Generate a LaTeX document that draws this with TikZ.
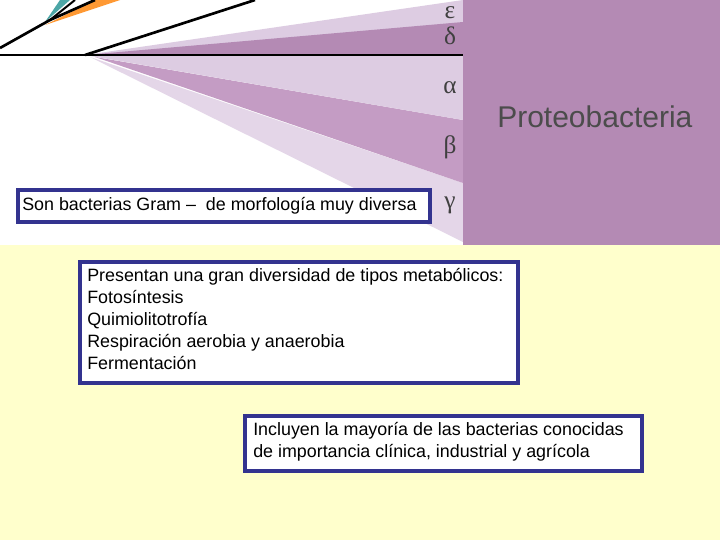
\documentclass[tikz,border=0pt]{standalone}
\usepackage{fontspec}
\setmainfont{Liberation Sans}
\newfontfamily\grk{Liberation Serif}
\begin{document}
\begin{tikzpicture}[x=0.75pt,y=-0.75pt,
 box/.style={draw=boxblue,line width=2.6pt,fill=white},
 txt/.style={font=\fontsize{13.4}{16.5}\selectfont,align=left,anchor=north west,inner sep=0pt},
 gl/.style={font=\grk\fontsize{19}{19}\selectfont,text=black!75}]
\definecolor{boxblue}{HTML}{33338F}
\definecolor{bgy}{HTML}{FFFFCC}
\definecolor{pdark}{HTML}{B48AB4}
\definecolor{pmid}{HTML}{C49CC4}
\definecolor{plight}{HTML}{DDCCE2}
\definecolor{plight2}{HTML}{E4D6E8}
\useasboundingbox (0,0) rectangle (720,540);
\fill[bgy] (0,245) rectangle (720,540);
\fill[white] (0,0) rectangle (463,245);
% wedges
\fill[plight] (85,55) -- (463,0) -- (463,55) -- cycle;
\fill[pdark] (85,55) -- (463,22) -- (463,55) -- cycle;
\fill[plight2] (90,57) -- (463,242) -- (463,183) -- cycle;
\fill[pmid] (95,57) -- (463,183) -- (463,120) -- cycle;
\fill[plight] (85,55) -- (463,120) -- (463,55) -- cycle;
\fill[pdark] (463,0) rectangle (720,245);
% tree lines
\fill[orange!80] (45,25) -- (120,0) -- (95,0) -- cycle;
\fill[teal!70] (45,22) -- (60,0) -- (70,0) -- cycle;
\draw[line width=2pt] (0,55) -- (463,55);
\draw[line width=2pt] (85,55) -- (255,0);
\draw[line width=2pt] (0,48) -- (50,20) -- (95,0);
\draw[line width=1.5pt] (50,20) -- (75,0);
\node[gl] (eps) at (450,13) {ε};
\node[gl] (del) at (450,36) {δ};
\node[gl] (alp) at (450,88) {α};
\node[gl] (bet) at (450,147) {β};
\node[gl] (gam) at (450,205) {γ};
\node[font=\fontsize{22.5}{24}\selectfont,text=black!70,anchor=west,inner sep=0pt] (prot) at (497,117) {Proteobacteria};
\draw[box] (18,190) rectangle (430,222);
\node[txt,anchor=west] (t1) at (22,206) {Son bacterias Gram –\ \ de morfología muy diversa};
\draw[box] (80,262) rectangle (518,383);
\node[txt] (t2) at (87,268) {Presentan una gran diversidad de tipos metabólicos:\\Fotosíntesis\\Quimiolitotrofía\\Respiración aerobia y anaerobia\\Fermentación};
\draw[box] (245,416) rectangle (642,471);
\node[txt] (t3) at (253,422) {Incluyen la mayoría de las bacterias conocidas\\de importancia clínica, industrial y agrícola};
\end{tikzpicture}
\end{document}
